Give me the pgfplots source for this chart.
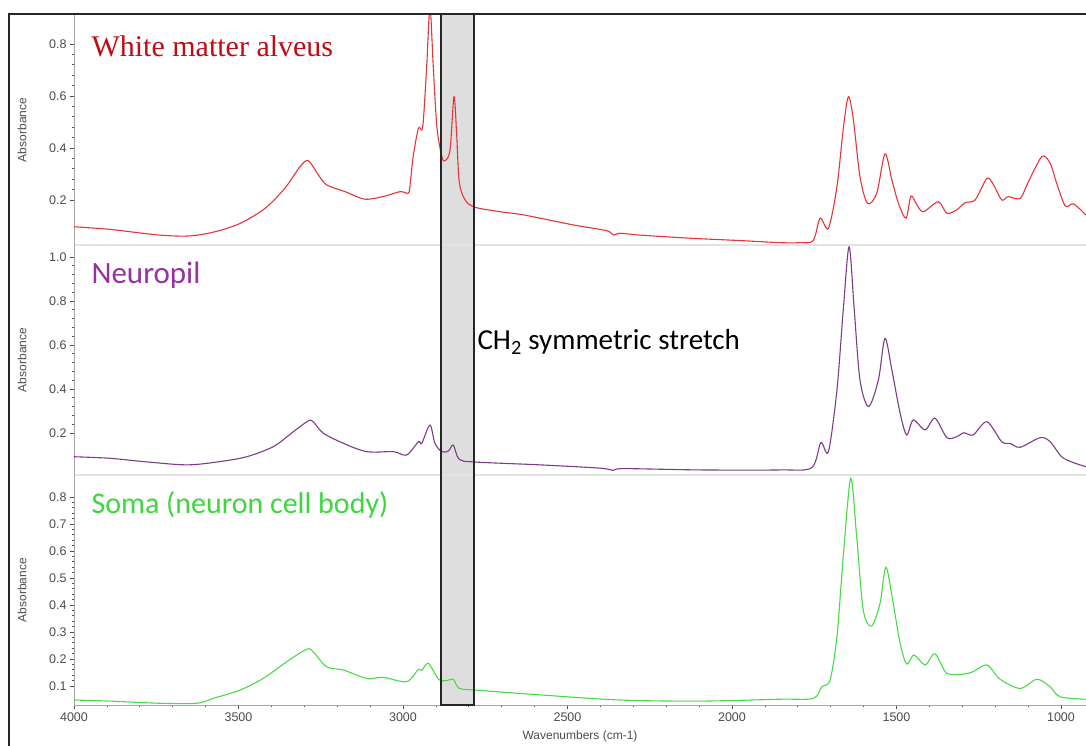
\documentclass[border=0pt]{standalone}
\usepackage{fontspec}
\setmainfont{Liberation Sans}
\newfontfamily\serifttl{Liberation Serif}
\newfontfamily\calib{Carlito}
\usepackage{pgfplots}
\pgfplotsset{compat=1.18}

\definecolor{redline}{RGB}{232,52,56}
\definecolor{redtitle}{RGB}{192,10,20}
\definecolor{purpline}{RGB}{125,60,135}
\definecolor{purptitle}{RGB}{150,50,160}
\definecolor{greenline}{RGB}{70,220,70}
\definecolor{greentitle}{RGB}{60,215,60}
\definecolor{boxgray}{RGB}{222,222,222}

\pgfplotsset{
  panel/.style={
    scale only axis, width=1012pt, height=230pt,
    xmin=924, xmax=4000, x dir=reverse,
    axis y line*=left,
    axis line style={draw=gray!70, line width=0.8pt},
    tick align=outside, major tick length=4pt, minor tick length=2pt,
    every tick/.style={draw=gray!60!black, line width=0.6pt},
    tick label style={font=\fontsize{12.5}{14}\selectfont, text=black!70},
    /pgf/number format/assume math mode=true,
    yticklabel style={/pgf/number format/.cd, fixed, fixed zerofill, precision=1},
    minor y tick num=4,
    ylabel={Absorbance},
    ylabel style={at={(axis description cs:-0.0514,0.5)}, anchor=center,
      font=\fontsize{12}{14}\selectfont, text=black!70},
  },
  spec/.style={line width=1.1pt, smooth, tension=0.5},
}

\begin{document}
\begin{tikzpicture}[x=1pt, y=1pt]
\useasboundingbox (0,0) rectangle (1086,746);
% shaded CH2 band
\fill[boxgray] (441,41) rectangle (474,732);

% top: white matter alveus
\begin{axis}[panel, hide x axis, at={(74pt,501pt)}, anchor=south west,
  ymin=0.027, ymax=0.911, ytick={0.2,0.4,0.6,0.8}]
\addplot[spec, redline] coordinates {
(4000,0.097)(3891,0.087)(3739,0.065)(3647,0.062)(3571,0.078)(3495,0.110)(3419,0.168)
(3359,0.245)(3313,0.328)(3288,0.351)(3257,0.296)(3232,0.258)(3176,0.232)(3115,0.203)
(3055,0.215)(3009,0.232)(2984,0.226)(2979,0.251)(2969,0.367)(2953,0.476)(2940,0.482)
(2928,0.713)(2918,0.940)(2908,0.713)(2897,0.482)(2882,0.367)(2872,0.351)(2857,0.392)
(2845,0.597)(2837,0.456)(2829,0.270)(2811,0.200)(2781,0.172)(2705,0.155)(2644,0.145)
(2583,0.130)(2482,0.104)(2381,0.082)(2361,0.065)(2340,0.072)(2279,0.065)(2127,0.053)
(1975,0.044)(1854,0.036)(1793,0.036)(1753,0.044)(1732,0.130)(1707,0.091)(1681,0.251)
(1661,0.482)(1646,0.597)(1631,0.508)(1611,0.290)(1588,0.187)(1560,0.226)(1535,0.377)
(1514,0.277)(1494,0.187)(1471,0.130)(1456,0.215)(1438,0.181)(1418,0.155)(1373,0.193)
(1347,0.149)(1317,0.162)(1291,0.190)(1261,0.200)(1225,0.283)(1205,0.258)(1180,0.200)
(1160,0.213)(1124,0.206)(1099,0.270)(1058,0.367)(1033,0.341)(1013,0.264)(987,0.177)
(962,0.185)(924,0.142)};
\end{axis}

% middle: neuropil
\begin{axis}[panel, hide x axis, at={(74pt,271pt)}, anchor=south west,
  ymin=0.009, ymax=1.0545, ytick={0.2,0.4,0.6,0.8,1.0}]
\addplot[spec, purpline] coordinates {
(4000,0.092)(3891,0.085)(3789,0.070)(3657,0.055)(3556,0.070)(3475,0.092)(3394,0.138)
(3333,0.206)(3288,0.255)(3273,0.251)(3242,0.199)(3181,0.153)(3110,0.115)(3029,0.115)
(2989,0.100)(2953,0.160)(2943,0.153)(2918,0.236)(2903,0.153)(2882,0.115)(2862,0.118)
(2847,0.145)(2829,0.080)(2781,0.068)(2583,0.055)(2400,0.040)(2361,0.030)(2330,0.038)
(2097,0.032)(1854,0.032)(1758,0.042)(1730,0.156)(1707,0.115)(1681,0.395)(1661,0.774)
(1644,1.047)(1629,0.774)(1611,0.441)(1585,0.320)(1555,0.441)(1535,0.630)(1514,0.486)
(1489,0.290)(1469,0.191)(1449,0.259)(1413,0.214)(1383,0.267)(1347,0.179)(1317,0.183)
(1295,0.201)(1267,0.191)(1225,0.251)(1180,0.160)(1155,0.153)(1124,0.135)(1063,0.179)
(1033,0.160)(998,0.092)(962,0.065)(924,0.047)};
\end{axis}

% bottom: soma
\begin{axis}[panel, at={(74pt,41pt)}, anchor=south west,
  axis x line*=bottom,
  ymin=0.0296, ymax=0.8815, ytick={0.1,0.2,0.3,0.4,0.5,0.6,0.7,0.8},
  xtick={1000,1500,2000,2500,3000,3500,4000}, minor x tick num=4,
  xticklabel style={/pgf/number format/.cd, 1000 sep={}, fixed, precision=0},
  xlabel={Wavenumbers (cm-1)},
  xlabel style={at={(axis description cs:0.5,-0.135)}, anchor=center,
    font=\fontsize{12}{14}\selectfont, text=black!70}]
\addplot[spec, greenline] coordinates {
(4000,0.048)(3891,0.044)(3739,0.036)(3627,0.036)(3577,0.054)(3495,0.085)(3425,0.128)
(3353,0.190)(3293,0.236)(3273,0.227)(3232,0.171)(3181,0.159)(3110,0.128)(3060,0.132)
(2989,0.116)(2953,0.162)(2943,0.157)(2923,0.184)(2892,0.125)(2867,0.120)(2847,0.125)
(2829,0.091)(2781,0.085)(2583,0.067)(2340,0.048)(2097,0.044)(1854,0.051)(1753,0.054)
(1727,0.097)(1702,0.122)(1681,0.283)(1661,0.591)(1639,0.869)(1621,0.653)(1601,0.381)
(1576,0.322)(1550,0.406)(1532,0.540)(1510,0.406)(1489,0.258)(1469,0.181)(1447,0.215)
(1413,0.178)(1383,0.219)(1347,0.147)(1296,0.144)(1267,0.153)(1225,0.178)(1185,0.125)
(1124,0.091)(1073,0.125)(1033,0.097)(1003,0.060)(924,0.051)};
\end{axis}

% panel separators, band outline, frame
\draw[gray!22, line width=2pt] (75,501) -- (1086,501);
\draw[gray!22, line width=2pt] (75,271) -- (1086,271);
\draw[black!85, line width=1.5pt] (441,41) rectangle (474,732);
\draw[black!85, line width=2.2pt] (9,0) -- (9,732) -- (1086,732);

% labels
\node[anchor=base west, text=redtitle, font=\serifttl\fontsize{30}{36}\selectfont] at (88,689) {White matter alveus};
\node[anchor=base west, text=purptitle, font=\calib\fontsize{31}{37}\selectfont] at (88,462) {Neuropil};
\node[anchor=base west, text=greentitle, font=\calib\fontsize{30}{36}\selectfont] at (88,232) {Soma (neuron cell body)};
\node[anchor=base west, text=black, font=\calib\fontsize{29}{35}\selectfont] at (474,396) {CH\textsubscript{2} symmetric stretch};
\end{tikzpicture}
\end{document}
